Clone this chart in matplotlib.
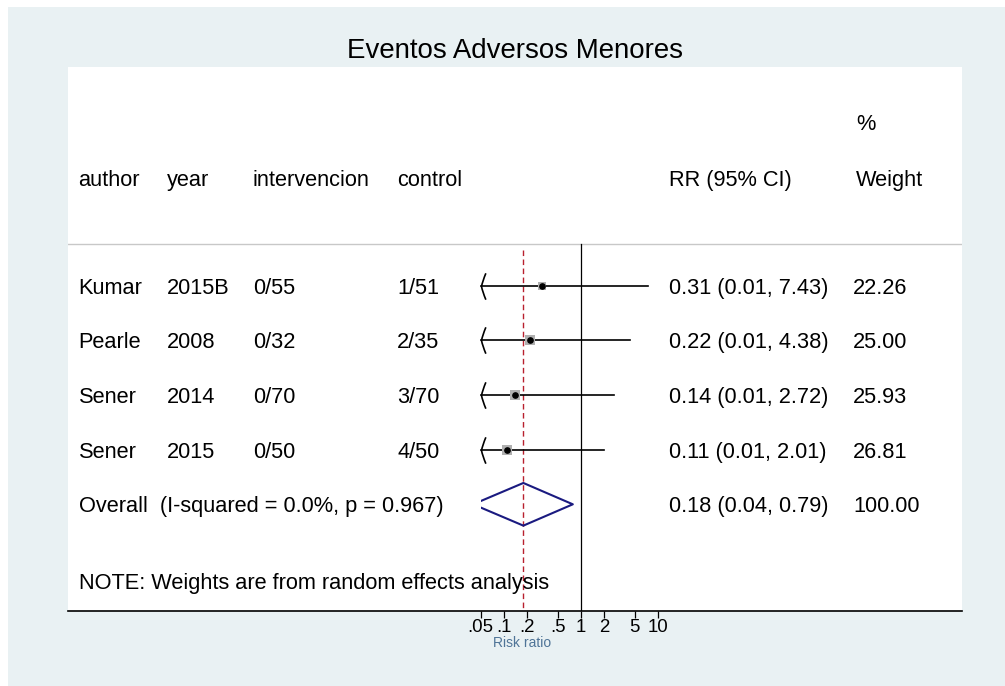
import numpy as np
import matplotlib.pyplot as plt
import matplotlib.transforms as mtransforms
from matplotlib.path import Path
from matplotlib.patches import Rectangle

plt.rcParams['font.family'] = ['Liberation Sans', 'DejaVu Sans']

# datos del forest plot
authors = ["Kumar", "Pearle", "Sener", "Sener"]
years = ["2015B", "2008", "2014", "2015"]
intervencion = ["0/55", "0/32", "0/70", "0/50"]
control = ["1/51", "2/35", "3/70", "4/50"]
rr = [0.31, 0.22, 0.14, 0.11]
rr_lo = [0.01, 0.01, 0.01, 0.01]
rr_hi = [7.43, 4.38, 2.72, 2.01]
weights = [22.26, 25.00, 25.93, 26.81]

overall_rr = 0.18
overall_lo = 0.04
overall_hi = 0.79
overall_label = "Overall  (I-squared = 0.0%, p = 0.967)"
note = "NOTE: Weights are from random effects analysis"

xticks = [0.05, 0.1, 0.2, 0.5, 1, 2, 5, 10]
xticklabels = [".05", ".1", ".2", ".5", "1", "2", "5", "10"]
x_min_forest = 0.05

# --- layout (pixeles de la imagen de referencia) ---
W, H = 1005, 686
BG = '#e9f1f3'
FS = 15.7
VA = 'center_baseline'
AX_L, AX_R, AX_T, AX_B = 68, 962, 66.7, 610.7
X1_PX, PX_DEC = 580.7, 77.0
ROW0_PX, ROW_PX = 285.5, 54.7

fig = plt.figure(figsize=(W / 100, H / 100), dpi=100, facecolor='white')
fig.patches.append(Rectangle((8 / W, 0), 1 - 8 / W, 1 - 7 / H,
                             transform=fig.transFigure, facecolor=BG,
                             edgecolor='none', zorder=-10))

ax = fig.add_axes([AX_L / W, 1 - AX_B / H, (AX_R - AX_L) / W, (AX_B - AX_T) / H])
ax.set_facecolor('white')
ax.set_xscale('log')
ax.set_xlim(10 ** (-(X1_PX - AX_L) / PX_DEC), 10 ** ((AX_R - X1_PX) / PX_DEC))
ax.set_ylim((AX_B - ROW0_PX) / ROW_PX, -(ROW0_PX - AX_T) / ROW_PX)

for s in ['top', 'left', 'right']:
    ax.spines[s].set_visible(False)
ax.spines['bottom'].set_linewidth(1.2)
ax.set_yticks([])
ax.set_xticks(xticks)
ax.set_xticklabels(xticklabels)
ax.xaxis.set_minor_locator(plt.NullLocator())
ax.tick_params(axis='x', length=5, width=0.9, pad=1.0, labelsize=13.4)
ax.set_xlabel("Risk ratio", fontsize=10, color='#4f7497')
ax.xaxis.set_label_coords((522 - AX_L) / (AX_R - AX_L), -(643 - AX_B) / (AX_B - AX_T))
ax.xaxis.label.set_va('center')
ax.set_title("Eventos Adversos Menores", fontsize=19.9, pad=6.5)

tr = mtransforms.blended_transform_factory(ax.transAxes, ax.transData)
def col(px):
    return (px - AX_L) / (AX_R - AX_L)

# cabecera
hdr_y = -1.96
for px, txt in [(78.5, "author"), (167, "year"), (253, "intervencion"),
                (397, "control"), (669, "RR (95% CI)"), (856, "Weight")]:
    ax.text(col(px), hdr_y, txt, transform=tr, fontsize=FS, va=VA)
ax.text(col(856), -2.99, "%", transform=tr, fontsize=FS, va=VA)
ax.axhline(-0.76, color='#c8c8c8', lw=1.0)

# lineas de referencia
ax.plot([1, 1], [-0.76, ax.get_ylim()[0]], color='black', lw=0.9, zorder=2)
ax.plot([overall_rr, overall_rr], [-0.65, ax.get_ylim()[0]], color='#b8202e',
        lw=1.0, dashes=(4, 2.5), zorder=2)

arrow = Path([(0.33, 1), (0.08, 0.4), (0, 0), (0.08, -0.4), (0.33, -1)],
             [Path.MOVETO, Path.CURVE3, Path.CURVE3, Path.CURVE3, Path.CURVE3])

for i in range(len(authors)):
    y = i
    ax.text(col(78.5), y, authors[i], transform=tr, fontsize=FS, va=VA)
    ax.text(col(167), y, years[i], transform=tr, fontsize=FS, va=VA)
    ax.text(col(253), y, intervencion[i], transform=tr, fontsize=FS, va=VA)
    ax.text(col(397), y, control[i], transform=tr, fontsize=FS, va=VA)
    ax.text(col(669), y, f"{rr[i]:.2f} ({rr_lo[i]:.2f}, {rr_hi[i]:.2f})",
            transform=tr, fontsize=FS, va=VA)
    ax.text(col(853), y, f"{weights[i]:.2f}", transform=tr, fontsize=FS, va=VA)

    lo = max(rr_lo[i], x_min_forest)
    ax.plot([lo, rr_hi[i]], [y, y], color='black', lw=1.2, zorder=3)
    if rr_lo[i] < x_min_forest:
        ax.plot([x_min_forest], [y], marker=arrow, markersize=19, color='black',
                markeredgewidth=1.2, fillstyle='none', zorder=3)
    ax.plot([rr[i]], [y], marker='s', markersize=6.8 * np.sqrt(weights[i] / 25),
            color='#b0b0b0', markeredgewidth=0, zorder=4)
    ax.plot([rr[i]], [y], marker='o', markersize=3.8, color='black', zorder=5)

# efecto global
oy = len(authors)
ax.text(col(78.5), oy, overall_label, transform=tr, fontsize=FS, va=VA)
ax.text(col(669), oy, f"{overall_rr:.2f} ({overall_lo:.2f}, {overall_hi:.2f})",
        transform=tr, fontsize=FS, va=VA)
ax.text(col(853), oy, f"{sum(weights):.2f}", transform=tr, fontsize=FS, va=VA)
dh = 0.39
diamond, = ax.plot([overall_lo, overall_rr, overall_hi, overall_rr, overall_lo],
                   [oy, oy - dh, oy, oy + dh, oy], color='#1a1a80', lw=1.5, zorder=4)
clip = Rectangle((x_min_forest, -10), 1e6, 30, transform=ax.transData)
diamond.set_clip_path(clip)

ax.text(col(78.5), 5.4, note, transform=tr, fontsize=FS, va=VA)

fig.savefig('out.png', dpi=100, facecolor=fig.get_facecolor())
